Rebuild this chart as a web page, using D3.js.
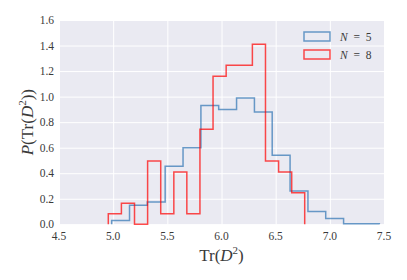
<!DOCTYPE html>
<html>
<head>
<meta charset="utf-8">
<script src="https://cdn.jsdelivr.net/npm/d3@7"></script>
<style>
    body { margin: 0; background: #fff; }
    text { font-family: "Liberation Serif", "DejaVu Serif", serif; fill: #3a3a3a; }
</style>
</head>
<body>
<div id="chart"></div>
<script>
// bin edges and densities
var edges5 = [4.986, 5.151, 5.315, 5.480, 5.645, 5.810, 5.974, 6.139, 6.304, 6.468, 6.633, 6.798, 6.962, 7.127, 7.292, 7.457];
var dens5 = [0.03, 0.15, 0.175, 0.455, 0.60, 0.93, 0.90, 0.99, 0.88, 0.54, 0.26, 0.10, 0.045, 0.005, 0.005];

var edges8 = [4.955, 5.076, 5.197, 5.318, 5.439, 5.560, 5.680, 5.801, 5.922, 6.043, 6.164, 6.285, 6.406, 6.527, 6.648, 6.768];
var dens8 = [0.083, 0.165, 0, 0.496, 0.083, 0.41, 0.083, 0.744, 1.16, 1.245, 1.245, 1.41, 0.496, 0.41, 0.248];

var xTicks = [4.5, 5.0, 5.5, 6.0, 6.5, 7.0, 7.5];
var yTicks = [0.0, 0.2, 0.4, 0.6, 0.8, 1.0, 1.2, 1.4, 1.6];

var series = [
    {label: '5', edges: edges5, dens: dens5, color: '#2d74b4', opacity: 0.7},
    {label: '8', edges: edges8, dens: dens8, color: '#ff0000', opacity: 0.7}
];

var margin = {left: 59, top: 20, right: 23, bottom: 56};
var width = 407, height = 280;

var svg = d3.select('#chart')
    .append('svg')
    .attr('width', width)
    .attr('height', height);

var x = d3.scaleLinear().domain([4.5, 7.5]).range([margin.left, width - margin.right]);
var y = d3.scaleLinear().domain([0, 1.6]).range([height - margin.bottom + 0.3, margin.top]);

svg.append('rect')
    .attr('x', x(4.5))
    .attr('y', y(1.6))
    .attr('width', x(7.5) - x(4.5))
    .attr('height', y(0) - y(1.6))
    .attr('fill', '#eaeaf2');

// grid
svg.append('g')
    .attr('transform', 'translate(0,' + y(0) + ')')
    .call(d3.axisBottom(x).tickValues(xTicks).tickSize(-(y(0) - y(1.6))).tickFormat(''))
    .call(function(g) {
        g.select('.domain').remove();
        g.selectAll('line').attr('stroke', '#fff').attr('stroke-width', 1);
    });

svg.append('g')
    .attr('transform', 'translate(' + x(4.5) + ',0)')
    .call(d3.axisLeft(y).tickValues(yTicks).tickSize(-(x(7.5) - x(4.5))).tickFormat(''))
    .call(function(g) {
        g.select('.domain').remove();
        g.selectAll('line').attr('stroke', '#fff').attr('stroke-width', 1);
    });

// tick labels
svg.append('g').selectAll('text')
    .data(xTicks)
    .enter().append('text')
    .attr('x', function(d) { return x(d); })
    .attr('y', y(0) + 16)
    .attr('text-anchor', 'middle')
    .style('font-size', '11.5px')
    .text(function(d) { return d.toFixed(1); });

svg.append('g').selectAll('text')
    .data(yTicks)
    .enter().append('text')
    .attr('x', x(4.5) - 5)
    .attr('y', function(d) { return y(d) + 4; })
    .attr('text-anchor', 'end')
    .style('font-size', '11.5px')
    .text(function(d) { return d.toFixed(1); });

// step outlines
var line = d3.line()
    .x(function(d) { return x(d[0]); })
    .y(function(d) { return y(d[1]); });

series.forEach(function(s) {
    var pts = [[s.edges[0], 0]];
    s.dens.forEach(function(v, i) {
        pts.push([s.edges[i], v]);
        pts.push([s.edges[i + 1], v]);
    });
    pts.push([s.edges[s.edges.length - 1], 0]);
    svg.append('path')
        .attr('d', line(pts))
        .attr('fill', 'none')
        .attr('stroke', s.color)
        .attr('stroke-opacity', s.opacity)
        .attr('stroke-width', 1.5);
});

// legend
var legend = svg.append('g').attr('transform', 'translate(304,32)');
series.forEach(function(s, i) {
    var row = legend.append('g').attr('transform', 'translate(0,' + (i * 18) + ')');
    row.append('rect')
        .attr('width', 26)
        .attr('height', 9)
        .attr('fill', 'none')
        .attr('stroke', s.color)
        .attr('stroke-opacity', s.opacity)
        .attr('stroke-width', 1.5);
    var t = row.append('text')
        .attr('x', 36)
        .attr('y', 9)
        .style('font-size', '11.5px')
        .style('white-space', 'pre');
    t.append('tspan').style('font-style', 'italic').text('N');
    t.append('tspan').text('  =  ' + s.label);
});

// axis labels
var xl = svg.append('text')
    .attr('x', (x(4.5) + x(7.5)) / 2)
    .attr('y', 261)
    .attr('text-anchor', 'middle')
    .style('font-size', '17px');
xl.append('tspan').text('Tr(');
xl.append('tspan').style('font-style', 'italic').text('D');
xl.append('tspan').attr('dy', -7).style('font-size', '11px').text('2');
xl.append('tspan').attr('dy', 7).text(')');

var yl = svg.append('text')
    .attr('transform', 'translate(33,' + ((y(0) + y(1.6)) / 2) + ') rotate(-90)')
    .attr('text-anchor', 'middle')
    .style('font-size', '17px');
yl.append('tspan').style('font-style', 'italic').text('P');
yl.append('tspan').text('(Tr(');
yl.append('tspan').style('font-style', 'italic').text('D');
yl.append('tspan').attr('dy', -7).style('font-size', '11px').text('2');
yl.append('tspan').attr('dy', 7).text('))');
</script>
</body>
</html>
